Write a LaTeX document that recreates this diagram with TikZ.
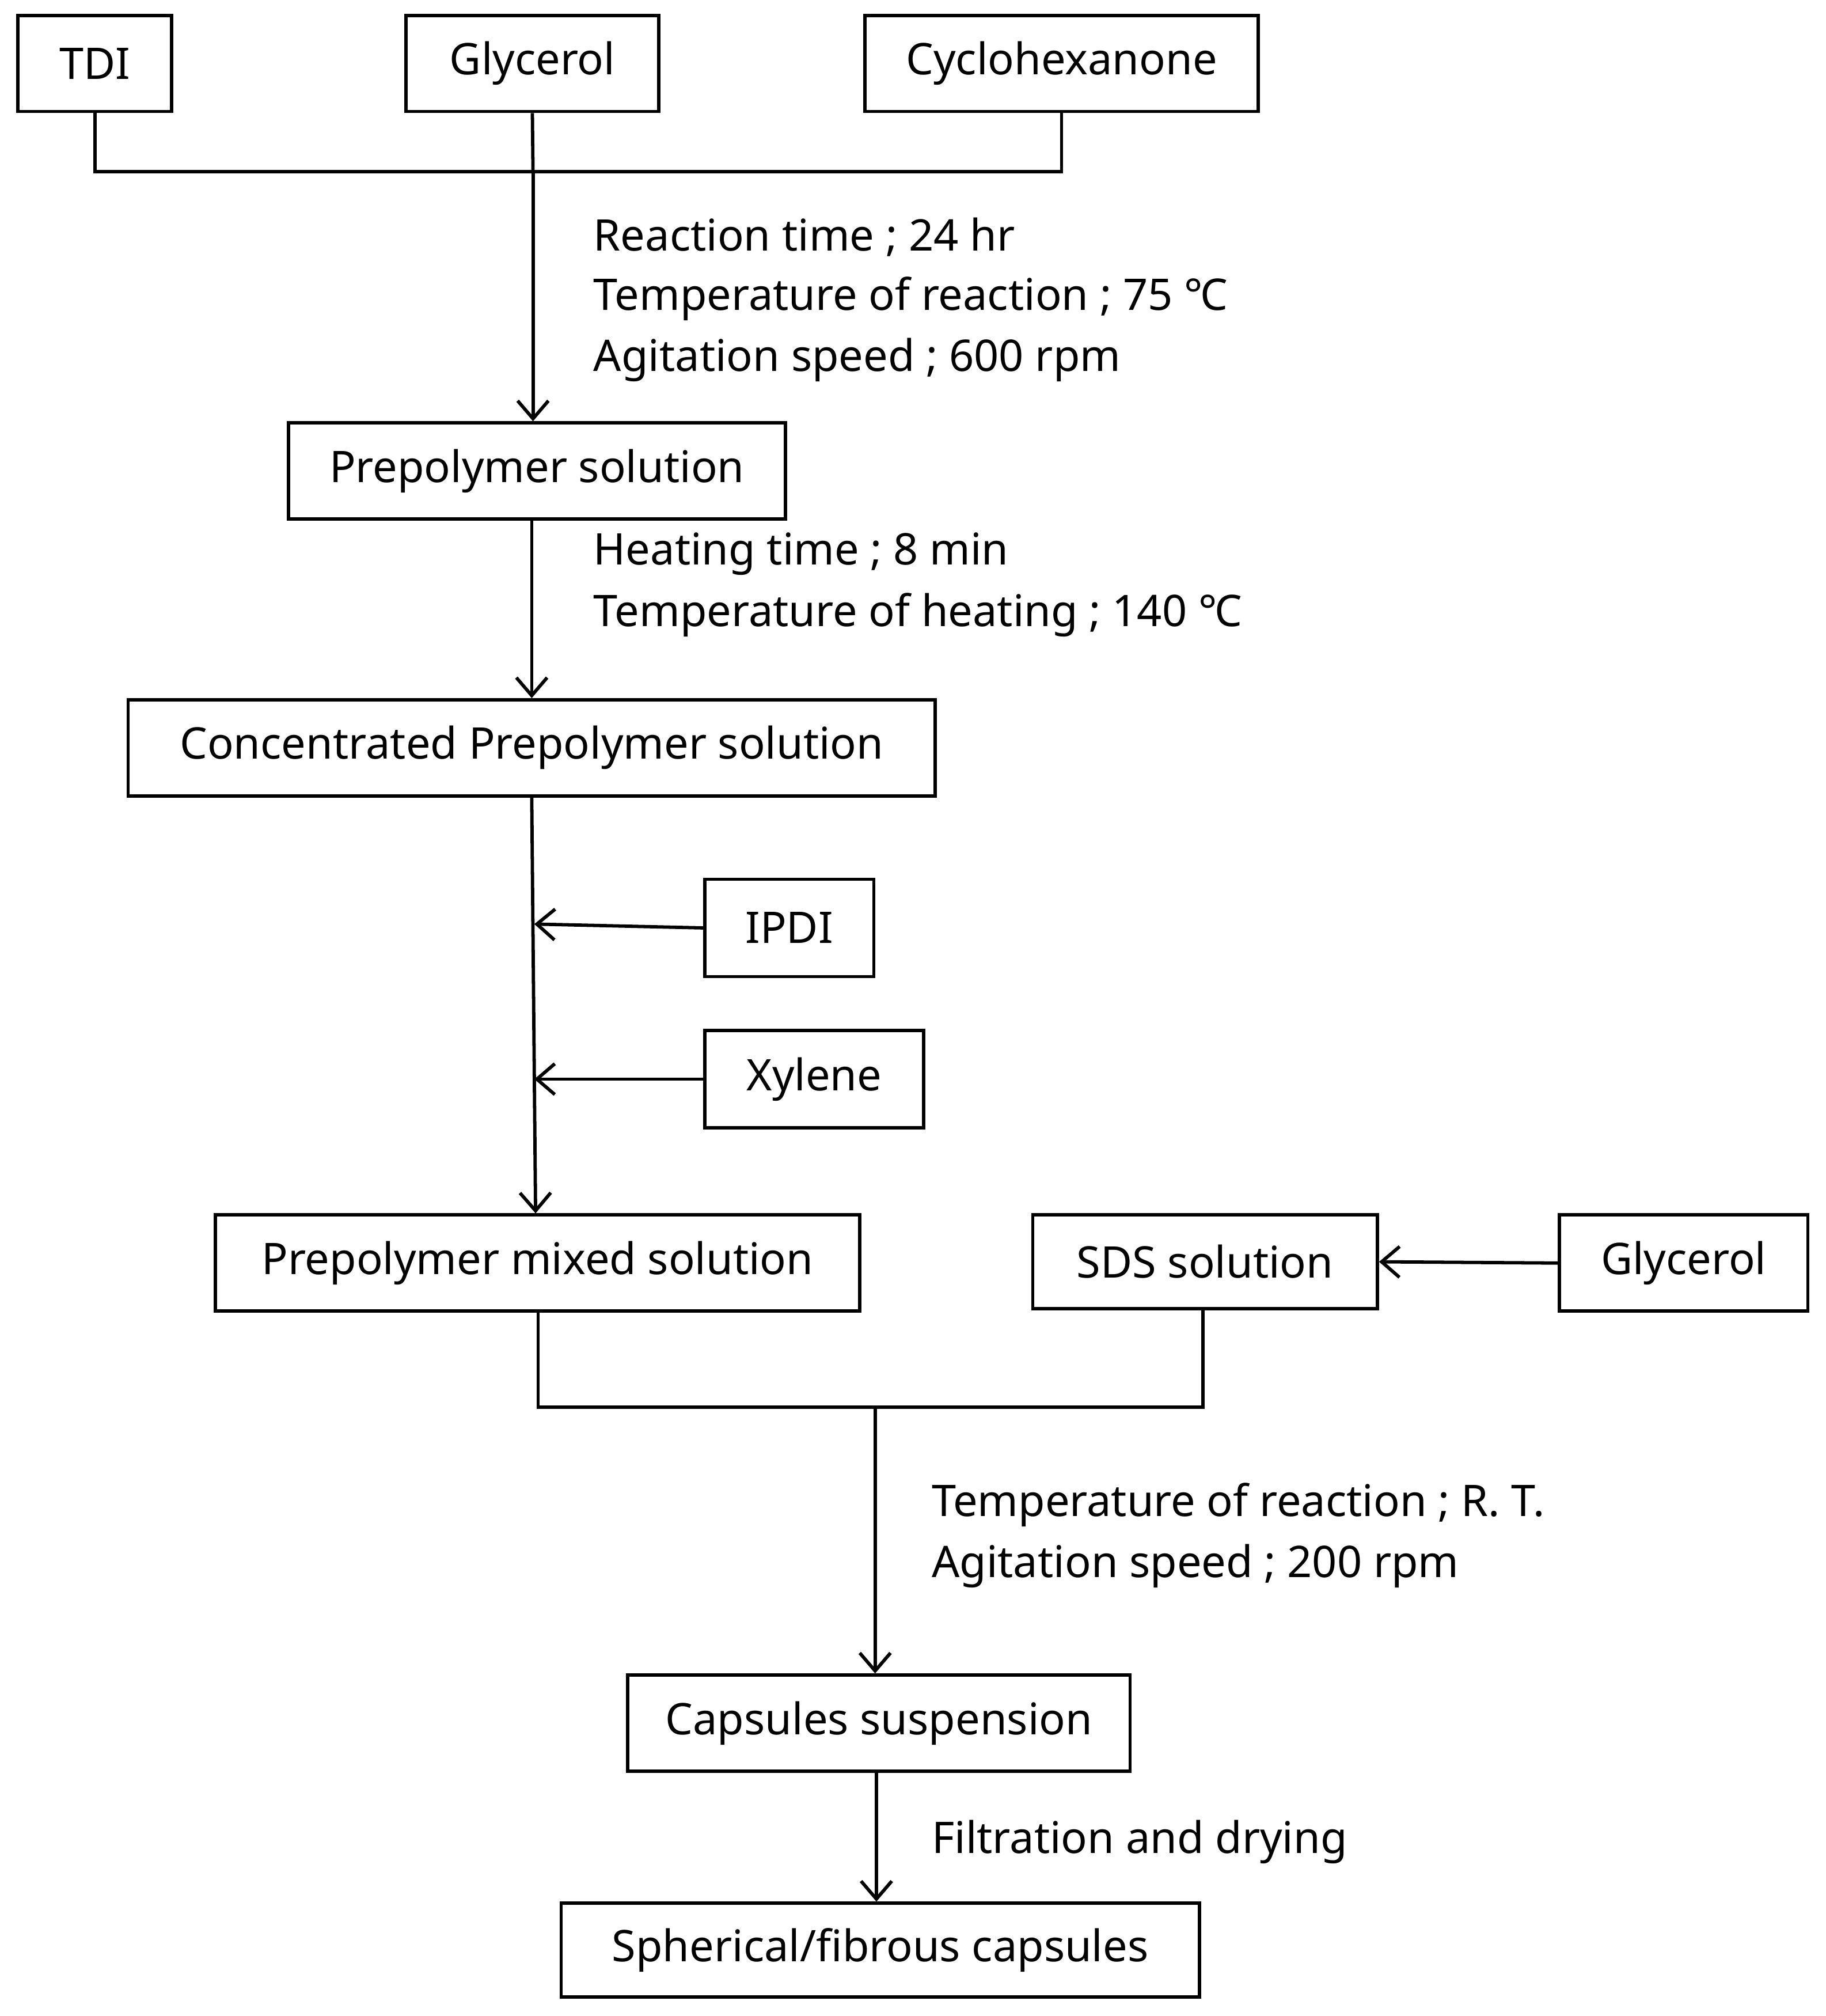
\documentclass[tikz,border=0pt]{standalone}
\usepackage{fontspec}
\setmainfont{Noto Sans}
\usetikzlibrary{arrows.meta}
\begin{document}
\begin{tikzpicture}[x=1pt,y=-1pt,line width=2.6pt,
  box/.style={draw,inner sep=0pt},
  lab/.style={anchor=west,inner sep=0pt,font=\fontsize{34}{40}\selectfont},
  arr/.style={-{Straight Barb[length=14pt,width=24pt,line width=2.6pt]}},
  every node/.style={font=\fontsize{34}{40}\selectfont}]
\useasboundingbox (0,0) rectangle (1425,1573);
\newcommand\bx[6]{\node[box,minimum width=#4-#2,minimum height=#5-#3] (#1) at ({(#2+#4)/2},{(#3+#5)/2}) {#6};}
\bx{tdi}{14}{12}{134}{87}{TDI}
\bx{gly}{317}{12}{514}{87}{Glycerol}
\bx{cyc}{675}{12}{982}{87}{Cyclohexanone}
\bx{pre}{225}{330}{613}{405}{Prepolymer solution}
\bx{con}{100}{546}{730}{621}{Concentrated Prepolymer solution}
\bx{ipdi}{550}{686}{682}{762}{IPDI}
\bx{xyl}{550}{804}{721}{880}{Xylene}
\bx{mix}{168}{948}{671}{1023}{Prepolymer mixed solution}
\bx{sds}{806}{948}{1075}{1021}{SDS solution}
\bx{gly2}{1217}{948}{1411}{1023}{Glycerol}
\bx{cap}{490}{1307}{882}{1382}{Capsules suspension}
\bx{sph}{438}{1485}{936}{1558}{Spherical/fibrous capsules}
\coordinate (j1) at (416,134);
\coordinate (j2) at (683,1098);
\coordinate (ai) at (417,721);
\coordinate (ax) at (417,842);
\draw (tdi.south) |- (j1) -| (cyc.south);
\draw (gly.south) -- (j1);
\draw[arr] (j1) -- (pre.north-|j1);
\draw[arr] (pre.south-|415,0) -- (con.north-|415,0);
\draw[arr] (con.south-|415,0) -- (mix.north-|418,0);
\draw[arr] (ipdi.west) -- (ai);
\draw[arr] (xyl.west) -- (ax);
\draw[arr] (gly2.west) -- (sds.east);
\draw (mix.south-|420,0) |- (j2) -| (sds.south-|939,0);
\draw[arr] (j2) -- (cap.north-|j2);
\draw[arr] (cap.south-|684,0) -- (sph.north-|684,0);
\node[lab] at (462,185) {Reaction time ; 24 hr};
\node[lab] at (462,233) {Temperature of reaction ; 75 ℃};
\node[lab] at (462,281) {Agitation speed ; 600 rpm};
\node[lab] at (462,432) {Heating time ; 8 min};
\node[lab] at (462,480) {Temperature of heating ; 140 ℃};
\node[lab] at (726,1174) {Temperature of reaction ; R. T.};
\node[lab] at (726,1222) {Agitation speed ; 200 rpm};
\node[lab] at (726,1437) {Filtration and drying};
\end{tikzpicture}
\end{document}
